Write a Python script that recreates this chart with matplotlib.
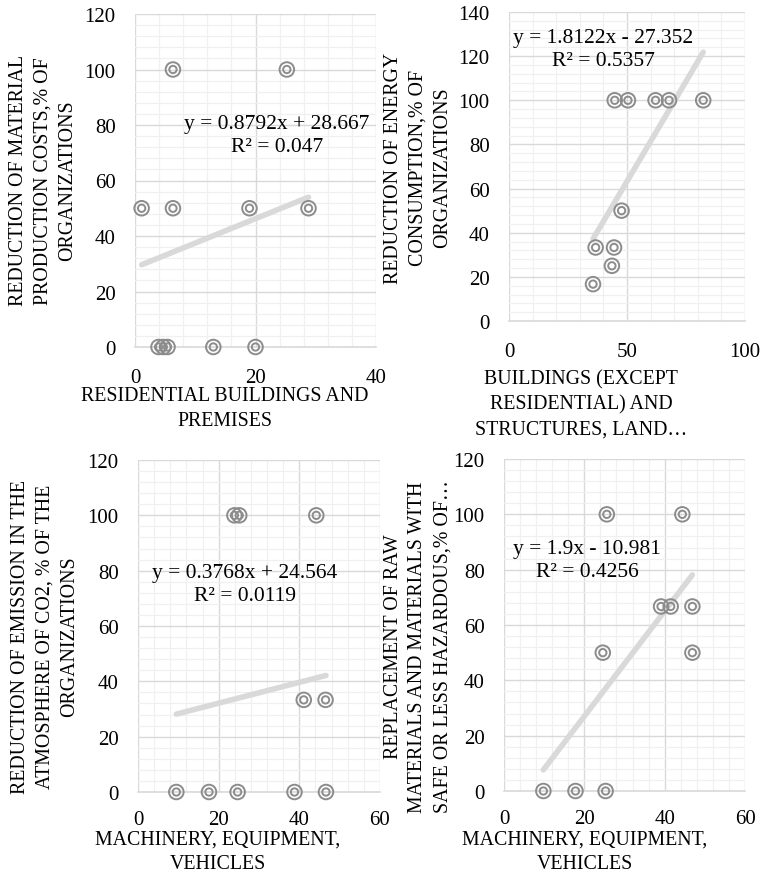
import matplotlib
matplotlib.use("Agg")
import matplotlib.pyplot as plt
from matplotlib.ticker import MultipleLocator

plt.rcParams['font.family'] = ['Liberation Serif', 'DejaVu Serif']

W, H = 763, 879

# ---- data ----
res_x = [1.1, 6.3, 6.3, 19.0, 25.2, 28.8, 3.9, 4.7, 5.4, 13.0, 20.0]
res_y = [50, 100, 50, 50, 100, 50, 0, 0, 0, 0, 0]
res_fit = (0.8792, 28.667, 0.047)

bld_x = [35.6, 36.7, 43.6, 44.5, 47.7, 44.8, 50.4, 62.1, 67.8, 82.3]
bld_y = [16.7, 33.3, 25.0, 33.3, 50.0, 100, 100, 100, 100, 100]
bld_fit = (1.8122, -27.352, 0.5357)

co2_x = [9.5, 17.6, 24.7, 38.8, 46.6, 23.9, 25.1, 44.2, 41.1, 46.5]
co2_y = [0, 0, 0, 0, 0, 100, 100, 100, 33.3, 33.3]
co2_fit = (0.3768, 24.564, 0.0119)

raw_x = [9.8, 17.8, 25.3, 25.6, 44.4, 39.1, 41.5, 46.9, 24.6, 46.9]
raw_y = [0, 0, 0, 100, 100, 66.7, 66.7, 66.7, 50, 50]
raw_fit = (1.9, -10.981, 0.4256)

panels = [
    dict(x=res_x, y=res_y, fit=res_fit, box=(135, 376, 15, 348), xpad=15,
         xlim=(0, 40), xmaj=20, xmin=4, ylim=(0, 120), ymaj=20, ymin=4,
         xlabel="RESIDENTIAL BUILDINGS AND\nPREMISES", xlab_pos=(225, 409),
         ylabel="REDUCTION OF MATERIAL\nPRODUCTION COSTS,% OF\nORGANIZATIONS", ylab_pos=(43, 181),
         eq_pos=(277, 115)),
    dict(x=bld_x, y=bld_y, fit=bld_fit, box=(509, 745, 13, 322), xpad=15,
         xlim=(0, 100), xmaj=50, xmin=10, ylim=(0, 140), ymaj=20, ymin=4,
         xlabel="BUILDINGS (EXCEPT\nRESIDENTIAL) AND\nSTRUCTURES, LAND\u2026", xlab_pos=(581, 405),
         ylabel="REDUCTION OF ENERGY\nCONSUMPTION,% OF\nORGANIZATIONS", ylab_pos=(418, 168),
         eq_pos=(603, 29)),
    dict(x=co2_x, y=co2_y, fit=co2_fit, box=(138, 380, 461, 793), xpad=13,
         xlim=(0, 60), xmaj=20, xmin=4, ylim=(0, 120), ymaj=20, ymin=4,
         xlabel="MACHINERY, EQUIPMENT,\nVEHICLES", xlab_pos=(218, 852),
         ylabel="REDUCTION OF EMISSION IN THE\nATMOSPHERE OF CO2, % OF THE\nORGANIZATIONS", ylab_pos=(45, 637),
         eq_pos=(245, 564)),
    dict(x=raw_x, y=raw_y, fit=raw_fit, box=(504, 745, 460, 792), xpad=13,
         xlim=(0, 60), xmaj=20, xmin=4, ylim=(0, 120), ymaj=20, ymin=4,
         xlabel="MACHINERY, EQUIPMENT,\nVEHICLES", xlab_pos=(585, 852),
         ylabel="REPLACEMENT OF RAW\nMATERIALS AND MATERIALS WITH\nSAFE OR LESS HAZARDOUS,% OF\u2026", ylab_pos=(418, 647),
         eq_pos=(587, 540)),
]

TICK_FS = 15
LABEL_FS = 14.3
EQ_FS = 15.5
MARK = "#8c8c8c"

fig = plt.figure(figsize=(W / 100, H / 100), dpi=100)

for p in panels:
    l, r, t, b = p["box"]
    ax = fig.add_axes([l / W, 1 - b / H, (r - l) / W, (b - t) / H])
    ax.set_xlim(*p["xlim"])
    ax.set_ylim(*p["ylim"])
    ax.xaxis.set_major_locator(MultipleLocator(p["xmaj"]))
    ax.xaxis.set_minor_locator(MultipleLocator(p["xmin"]))
    ax.yaxis.set_major_locator(MultipleLocator(p["ymaj"]))
    ax.yaxis.set_minor_locator(MultipleLocator(p["ymin"]))
    ax.grid(which="major", color="#d9d9d9", lw=1.0)
    ax.grid(which="minor", color="#f0f0f0", lw=0.9)
    ax.set_axisbelow(True)
    for s in ["top", "right", "left"]:
        ax.spines[s].set_visible(False)
    ax.spines["bottom"].set_color("#d9d9d9")
    ax.spines["bottom"].set_linewidth(1.2)
    ax.tick_params(which="both", length=0, labelsize=TICK_FS)
    ax.tick_params(axis="x", pad=p["xpad"])
    ax.tick_params(axis="y", pad=14)

    # linear trendline over the data range
    m, c, r2 = p["fit"]
    x0, x1 = min(p["x"]), max(p["x"])
    ax.plot([x0, x1], [m * x0 + c, m * x1 + c], color="#d9d9d9", lw=4,
            solid_capstyle="round", zorder=2)

    # double-ring markers
    ax.scatter(p["x"], p["y"], s=110, facecolors="none", edgecolors=MARK,
               linewidths=1.4, zorder=3, clip_on=False)
    ax.scatter(p["x"], p["y"], s=28, facecolors="none", edgecolors=MARK,
               linewidths=1.4, zorder=3, clip_on=False)

    sign = "+" if c >= 0 else "-"
    eq = f"y = {m:g}x {sign} {abs(c):g}\nR\u00b2 = {r2:g}"
    ex, ey = p["eq_pos"]
    fig.text(ex / W, 1 - ey / H, eq, ha="center", va="top", fontsize=EQ_FS,
             linespacing=1.32)

    xl, yl = p["xlab_pos"]
    fig.text(xl / W, 1 - yl / H, p["xlabel"], ha="center", va="center",
             fontsize=LABEL_FS, linespacing=1.42)
    yx, yy = p["ylab_pos"]
    fig.text(yx / W, 1 - yy / H, p["ylabel"], ha="center", va="center",
             rotation=90, fontsize=LABEL_FS, linespacing=1.42)

fig.savefig("out.png", dpi=100)
